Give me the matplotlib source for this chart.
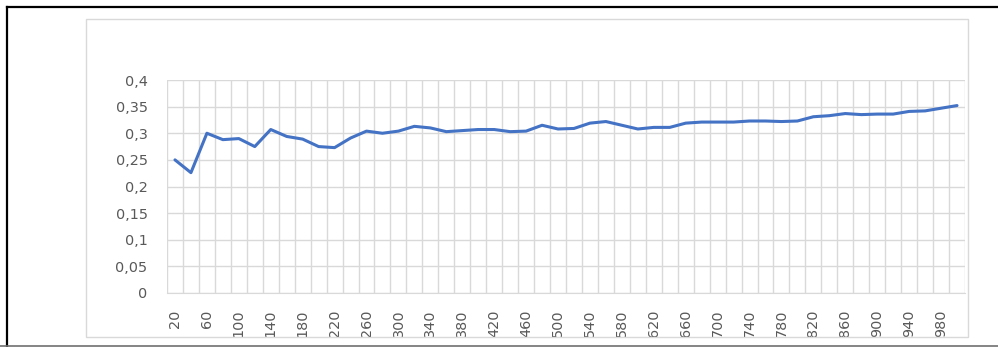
import matplotlib
matplotlib.use("Agg")
import matplotlib.pyplot as plt
from matplotlib.lines import Line2D
from matplotlib.patches import Rectangle
from matplotlib.ticker import FixedLocator, FuncFormatter

categories = [20, 40, 60, 80, 100, 120, 140, 160, 180, 200,
              220, 240, 260, 280, 300, 320, 340, 360, 380, 400,
              420, 440, 460, 480, 500, 520, 540, 560, 580, 600,
              620, 640, 660, 680, 700, 720, 740, 760, 780, 800,
              820, 840, 860, 880, 900, 920, 940, 960, 980, 1000]
values = [0.250, 0.226, 0.300, 0.288, 0.290, 0.275, 0.307, 0.294, 0.289, 0.275,
          0.273, 0.291, 0.304, 0.300, 0.304, 0.313, 0.310, 0.303, 0.305, 0.307,
          0.307, 0.303, 0.304, 0.315, 0.308, 0.309, 0.319, 0.322, 0.315, 0.308,
          0.311, 0.311, 0.319, 0.321, 0.321, 0.321, 0.323, 0.323, 0.322, 0.323,
          0.331, 0.333, 0.337, 0.335, 0.336, 0.336, 0.341, 0.342, 0.347, 0.352]
y_ticks = [0, 0.05, 0.1, 0.15, 0.2, 0.25, 0.3, 0.35, 0.4]

W, H = 998, 347
fig = plt.figure(figsize=(W / 100, H / 100), dpi=100)
fig.patch.set_facecolor("white")

# plot area in pixel coordinates
L, R, T, B = 167, 965, 80, 293
ax = fig.add_axes([L / W, 1 - B / H, (R - L) / W, (B - T) / H])

pos = list(range(len(categories)))
ax.plot(pos, values, color="#4472C4", linewidth=2.2, solid_joinstyle="round",
        solid_capstyle="round", zorder=3)

ax.set_xlim(-0.5, len(categories) - 0.5)
ax.set_ylim(0, 0.4)

ax.xaxis.set_major_locator(FixedLocator(pos[::2]))
ax.set_xticklabels([str(c) for c in categories[::2]], rotation=90)
ax.xaxis.set_minor_locator(FixedLocator([p - 0.5 for p in pos] + [len(pos) - 0.5]))
ax.yaxis.set_major_locator(FixedLocator(y_ticks))
ax.yaxis.set_major_formatter(FuncFormatter(lambda v, p: ("%g" % round(v, 2)).replace(".", ",")))

grid_c = "#d9d9d9"
ax.grid(True, which="minor", axis="x", color=grid_c, linewidth=1)
ax.grid(True, which="major", axis="y", color=grid_c, linewidth=1)
ax.set_axisbelow(True)
for s in ax.spines.values():
    s.set_visible(False)
ax.spines["bottom"].set_visible(True)
ax.spines["bottom"].set_color(grid_c)

ax.tick_params(axis="both", which="both", length=0, colors="#595959", labelsize=10.4)
ax.tick_params(axis="x", pad=12)
ax.tick_params(axis="y", pad=14)

# inner chart box (light gray)
fig.add_artist(Rectangle((86 / W, 1 - 337 / H), (968 - 86) / W, (337 - 19) / H,
                         transform=fig.transFigure, fill=False,
                         edgecolor="#d9d9d9", linewidth=1))
# outer black border (top and left), gray bottom line
fig.add_artist(Line2D([7 / W, 1], [1 - 7 / H, 1 - 7 / H], transform=fig.transFigure,
                      color="black", linewidth=1.6))
fig.add_artist(Line2D([7 / W, 7 / W], [0, 1 - 7 / H], transform=fig.transFigure,
                      color="black", linewidth=1.6))
fig.add_artist(Line2D([0, 1], [1 - 346 / H, 1 - 346 / H], transform=fig.transFigure,
                      color="#707070", linewidth=1.2))

fig.savefig("out.png", dpi=100)
